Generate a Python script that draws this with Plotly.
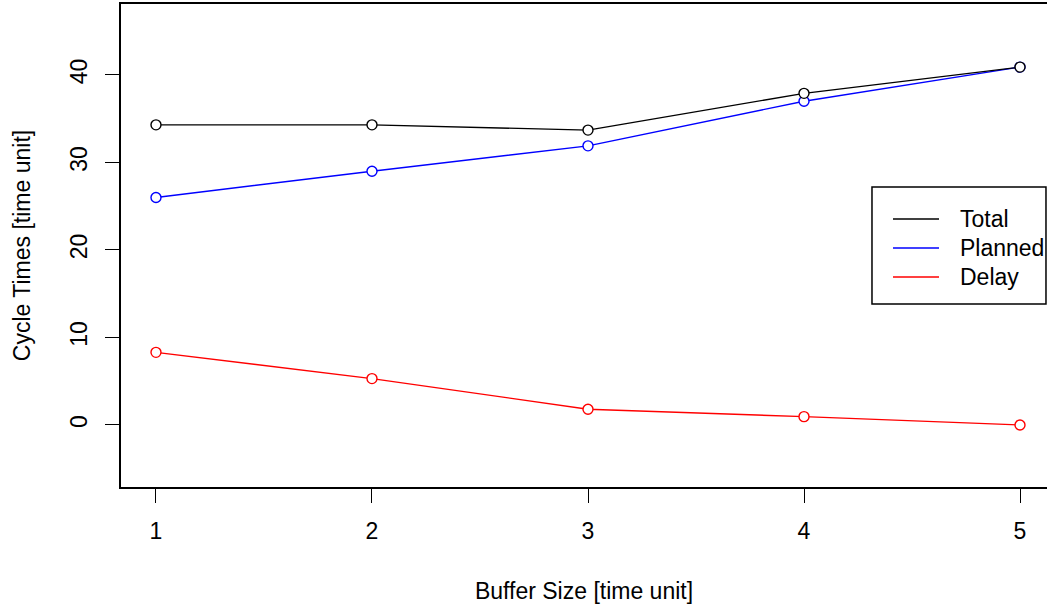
import plotly.graph_objects as go

buffer_size = [1, 2, 3, 4, 5]
total = [34.3, 34.3, 33.7, 37.9, 40.9]
planned = [26.0, 29.0, 31.9, 37.0, 40.9]
delay = [8.3, 5.3, 1.8, 0.95, 0.0]

series_names = ["Total", "Planned", "Delay"]
series_colors = ["#000000", "#0000FF", "#FF0000"]

FONT = "Liberation Sans, Arial, sans-serif"
FS = 23

fig = go.Figure()

# data traces (draw total last so its markers sit on top)
for name, vals, col in [("Delay", delay, "#FF0000"), ("Planned", planned, "#0000FF"), ("Total", total, "#000000")]:
    fig.add_trace(go.Scatter(
        x=buffer_size, y=vals, mode="lines+markers", name=name, showlegend=False,
        line=dict(color=col, width=1.4),
        marker=dict(symbol="circle", size=10, color="white", line=dict(color=col, width=1.4)),
    ))

# R-style legend box (line samples + labels), placed in paper coordinates
shapes = [dict(type="rect", xref="paper", yref="paper", x0=0.8110, x1=0.9989, y0=0.3789, y1=0.6211,
               line=dict(color="#000000", width=1.5), fillcolor="white", layer="above")]
annotations = []
row_y = [0.5549, 0.4948, 0.4348]
for name, col, yy in zip(series_names, series_colors, row_y):
    shapes.append(dict(type="line", xref="paper", yref="paper", x0=0.8337, x1=0.8834, y0=yy, y1=yy,
                       line=dict(color=col, width=1.5), layer="above"))
    annotations.append(dict(text=name, xref="paper", yref="paper", x=0.9039, y=yy,
                            xanchor="left", yanchor="middle", showarrow=False,
                            font=dict(family=FONT, size=FS, color="#000000")))

fig.update_layout(
    width=1047, height=608,
    margin=dict(l=121, r=0, t=4, b=121),
    paper_bgcolor="white", plot_bgcolor="white",
    font=dict(family=FONT, size=FS, color="#000000"),
    showlegend=False,
    shapes=shapes, annotations=annotations,
    xaxis=dict(
        range=[0.838, 5.125], tickmode="array", tickvals=buffer_size,
        ticktext=[str(v) for v in buffer_size],
        showgrid=False, zeroline=False,
        showline=True, linecolor="#000000", linewidth=1.5, mirror=True,
        ticks="outside", ticklen=14, tickwidth=1.3, tickcolor="#000000",
        ticklabelstandoff=9,
        title=dict(text="Buffer Size [time unit]", standoff=40, font=dict(size=FS)),
    ),
    yaxis=dict(
        range=[-7.09, 48.11], tickmode="array", tickvals=[0, 10, 20, 30, 40],
        showgrid=False, zeroline=False,
        showline=True, linecolor="#000000", linewidth=1.5, mirror=False,
        ticks="outside", ticklen=14, tickwidth=1.3, tickcolor="#000000",
        tickangle=-90, ticklabelstandoff=9,
        title=dict(text="Cycle Times [time unit]", standoff=29, font=dict(size=FS)),
    ),
)

fig.write_html("out.html", config={"displayModeBar": False},
               post_script="document.body.style.margin='0';")
